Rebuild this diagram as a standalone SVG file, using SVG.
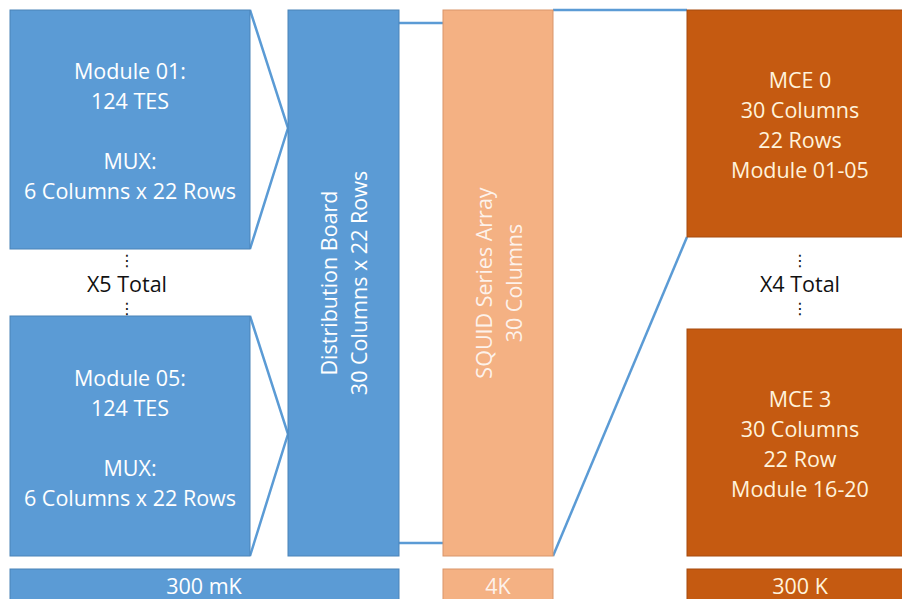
<svg xmlns="http://www.w3.org/2000/svg" width="902" height="599" viewBox="0 0 902 599">
<style>
.blue{fill:#5B9BD5;stroke:#4A83B8;stroke-width:1}
.lor{fill:#F4B183;stroke:#D9956A;stroke-width:1}
.dor{fill:#C55A11;stroke:#A64B0E;stroke-width:1}
.t{font-family:"Open Sans","Liberation Sans",Arial,sans-serif;font-size:21.5px;text-anchor:middle}
.w{fill:#FFFFFF}
.c{fill:#FFF3DC}
.k{fill:#111111}
.d{font-family:"DejaVu Sans",sans-serif;font-size:16px;text-anchor:middle;fill:#111111}
.conn{stroke:#5B9BD5;stroke-width:2.5;fill:none}
</style>
<rect width="902" height="599" fill="#FFFFFF"/>
<g id="connectors">
<polyline class="conn" points="250,10 288,128 250,249"/>
<polyline class="conn" points="250,316 288,434 250,556"/>
<line class="conn" x1="399" y1="23" x2="443" y2="23"/>
<line class="conn" x1="399" y1="543" x2="443" y2="543"/>
<line class="conn" x1="553" y1="10" x2="687" y2="10"/>
<line class="conn" x1="553" y1="556" x2="687" y2="237"/>
</g>
<g id="module01">
<rect class="blue" x="10" y="10" width="240" height="239"/>
<text class="t w" x="130" y="79">Module 01:</text>
<text class="t w" x="130" y="109">124 TES</text>
<text class="t w" x="130" y="169">MUX:</text>
<text class="t w" x="130" y="199">6 Columns x 22 Rows</text>
</g>
<g id="x5total">
<text class="d" x="127" y="266">⋮</text>
<text class="t k" x="127" y="292">X5 Total</text>
<text class="d" x="127" y="314">⋮</text>
</g>
<g id="module05">
<rect class="blue" x="10" y="316" width="240" height="240"/>
<text class="t w" x="130" y="386">Module 05:</text>
<text class="t w" x="130" y="416">124 TES</text>
<text class="t w" x="130" y="476">MUX:</text>
<text class="t w" x="130" y="506">6 Columns x 22 Rows</text>
</g>
<g id="distribution">
<rect class="blue" x="288" y="10" width="111" height="546"/>
<g transform="rotate(-90 343 283)">
<text class="t w" x="343" y="277">Distribution Board</text>
<text class="t w" x="343" y="307">30 Columns x 22 Rows</text>
</g>
</g>
<g id="squid">
<rect class="lor" x="443" y="10" width="110" height="546"/>
<g transform="rotate(-90 498 283)">
<text class="t w" x="498" y="277" fill-opacity="0.85">SQUID Series Array</text>
<text class="t w" x="498" y="307" fill-opacity="0.85">30 Columns</text>
</g>
</g>
<g id="mce0">
<rect class="dor" x="687" y="10" width="230" height="227"/>
<text class="t c" x="800" y="88">MCE 0</text>
<text class="t c" x="800" y="118">30 Columns</text>
<text class="t c" x="800" y="148">22 Rows</text>
<text class="t c" x="800" y="178">Module 01-05</text>
</g>
<g id="x4total">
<text class="d" x="800" y="266">⋮</text>
<text class="t k" x="800" y="292">X4 Total</text>
<text class="d" x="800" y="314">⋮</text>
</g>
<g id="mce3">
<rect class="dor" x="687" y="329" width="230" height="227"/>
<text class="t c" x="800" y="407">MCE 3</text>
<text class="t c" x="800" y="437">30 Columns</text>
<text class="t c" x="800" y="467">22 Row</text>
<text class="t c" x="800" y="497">Module 16-20</text>
</g>
<g id="temp300mK">
<rect class="blue" x="10" y="569" width="389" height="40"/>
<text class="t w" x="204" y="594">300 mK</text>
</g>
<g id="temp4K">
<rect class="lor" x="443" y="569" width="110" height="40"/>
<text class="t w" x="498" y="594" fill-opacity="0.85">4K</text>
</g>
<g id="temp300K">
<rect class="dor" x="687" y="569" width="230" height="40"/>
<text class="t c" x="800" y="594">300 K</text>
</g>
</svg>
